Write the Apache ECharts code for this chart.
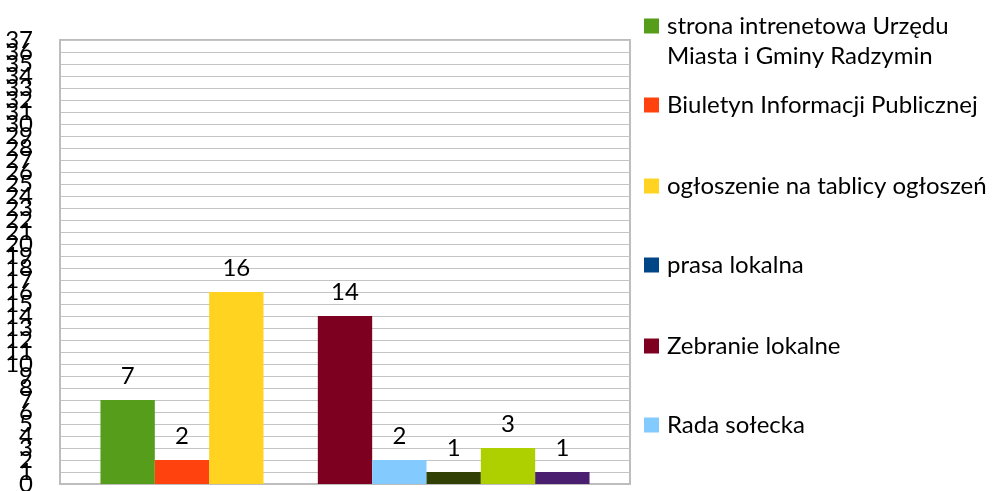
<!DOCTYPE html>
<html>
<head>
<meta charset="utf-8">
<script src="https://cdn.jsdelivr.net/npm/echarts@6/dist/echarts.min.js"></script>
<style>
    html, body { margin: 0; padding: 0; background: #fff; }
    #chart { width: 995px; height: 491px; }
</style>
</head>
<body>
<div id="chart"></div>
<script>
// data
const categories = [''];
const seriesNames = [
    'strona intrenetowa Urzędu Miasta i Gminy Radzymin',
    'Biuletyn Informacji Publicznej',
    'ogłoszenie na tablicy ogłoszeń',
    'prasa lokalna',
    'Zebranie lokalne',
    'Rada sołecka',
    'seria 7',
    'seria 8',
    'seria 9'
];
const seriesValues = [7, 2, 16, 0, 14, 2, 1, 3, 1];
const legendNames = seriesNames.slice(0, 6);
const yTickLabels = ['0', '1', '2', '3', '4', '5', '6', '7', '8', '9',
    '10', '11', '12', '13', '14', '15', '16', '17', '18', '19',
    '20', '21', '22', '23', '24', '25', '26', '27', '28', '29',
    '30', '31', '32', '33', '34', '35', '36', '37'];
const yMax = 37;

const colors = ['#579d1c', '#ff420e', '#ffd320', '#004586', '#7e0021',
                '#83caff', '#314004', '#aecf00', '#4b1f6f'];
const fontFamily = 'Lato';
const lineH = 30;
const legendY = [26, 105, 186, 265, 346, 425];   // marker centres

function buildLegends() {
    return legendNames.map((name, i) => {
        let first = i === 0;
        return {
            show: true,
            orient: 'vertical',
            left: 644,
            top: first ? legendY[i] - lineH * 1.5 : legendY[i] - lineH / 2,
            padding: 0,
            itemWidth: 15,
            itemHeight: 15,
            icon: 'rect',
            selectedMode: false,
            data: [name],
            formatter: first ? '\nstrona intrenetowa Urzędu\nMiasta i Gminy Radzymin' : '{name}',
            textStyle: {
                fontFamily: fontFamily,
                fontSize: 24,
                lineHeight: lineH,
                color: '#000',
                padding: [0, 0, 0, 3]
            }
        };
    });
}

function buildSeries() {
    return seriesNames.map((name, i) => ({
        name: name,
        type: 'bar',
        yAxisIndex: 0,
        barGap: '0%',
        barCategoryGap: '14.2%',
        itemStyle: { color: colors[i] },
        label: {
            show: true,
            position: 'top',
            distance: 12,
            fontFamily: fontFamily,
            fontSize: 24,
            color: '#000',
            formatter: (p) => p.value === 0 ? '' : String(p.value)
        },
        data: [seriesValues[i]]
    }));
}

let myChart = echarts.init(document.getElementById('chart'), null, { renderer: 'canvas' });

let option = {
    animation: false,
    backgroundColor: '#fff',
    color: colors,
    grid: {
        left: 60,
        right: 365,
        top: 40,
        bottom: 7,
        outerBoundsMode: 'none',
        containLabel: false,
        show: true,
        borderColor: '#bdbdbd',
        borderWidth: 2
    },
    legend: buildLegends(),
    xAxis: {
        type: 'category',
        data: categories,
        axisLine: { show: true, lineStyle: { color: '#bdbdbd', width: 2 } },
        axisTick: { show: false },
        axisLabel: { show: false }
    },
    yAxis: [
        {
            // value scale used by the bars
            type: 'value',
            min: 0,
            max: yMax,
            interval: 1,
            axisLine: { show: true, lineStyle: { color: '#bdbdbd', width: 2 } },
            axisTick: { show: false },
            splitLine: { show: true, lineStyle: { color: '#c4c4c4', width: 1 } },
            axisLabel: { show: false }
        },
        {
            // same positions, every label kept even where they overlap
            type: 'category',
            position: 'left',
            boundaryGap: false,
            data: yTickLabels,
            axisLine: { show: false },
            axisTick: { show: false },
            splitLine: { show: false },
            axisLabel: {
                interval: 0,
                margin: 27,
                fontFamily: fontFamily,
                fontSize: 24,
                color: '#000',
                hideOverlap: false
            }
        }
    ],
    series: buildSeries()
};

myChart.setOption(option);
</script>
</body>
</html>
